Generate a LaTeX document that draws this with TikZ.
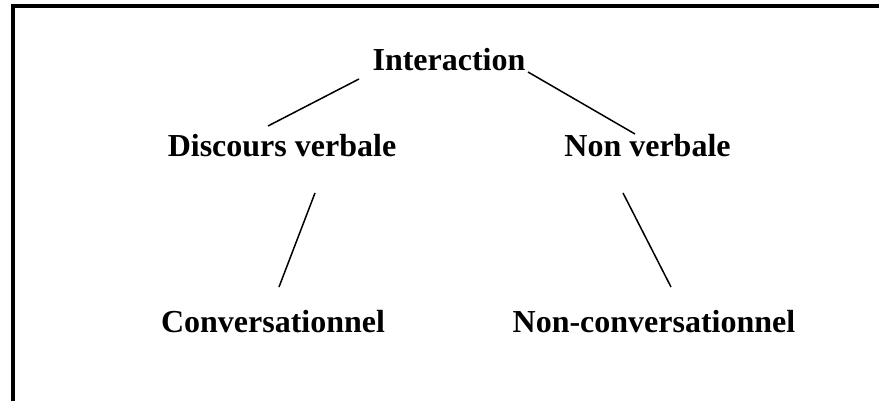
\documentclass[tikz,border=0pt]{standalone}
\usepackage{fontspec}
\setmainfont{Liberation Serif}
\usepackage{tikz}
\usetikzlibrary{calc}
\usepackage{xcolor}

\begin{document}
\begin{tikzpicture}[x=0.5pt,y=-0.5pt,
		link/.style={draw,line width=0.75pt},
		frame/.style={draw,line width=2pt,line join=miter}]
		\tikzstyle{every node}=[inner sep=0pt, anchor=base,
		  font=\fontsize{16}{19}\selectfont\bfseries]
		\useasboundingbox (0,0) rectangle (879,401);
		\draw[frame] (13,401) -- (13,6) -- (879,6);
		\node (inter) at (449,71) {Interaction};
		\node (dv) at (282,157) {Discours verbale};
		\node (nv) at (647.5,157) {Non verbale};
		\node (conv) at (273,332) {Conversationnel};
		\node (nconv) at (654,332) {Non-conversationnel};
		\draw[link] ($(inter.base)+(-90,8)$) -- ($(dv.base)+(-14,-31)$);
		\draw[link] ($(inter.base)+(79,1)$) -- ($(nv.base)+(-12.5,-23)$);
		\draw[link] ($(dv.base)+(33,36)$) -- ($(conv.base)+(6,-45)$);
		\draw[link] ($(nv.base)+(-24.5,36)$) -- ($(nconv.base)+(17,-45)$);
\end{tikzpicture}
\end{document}
